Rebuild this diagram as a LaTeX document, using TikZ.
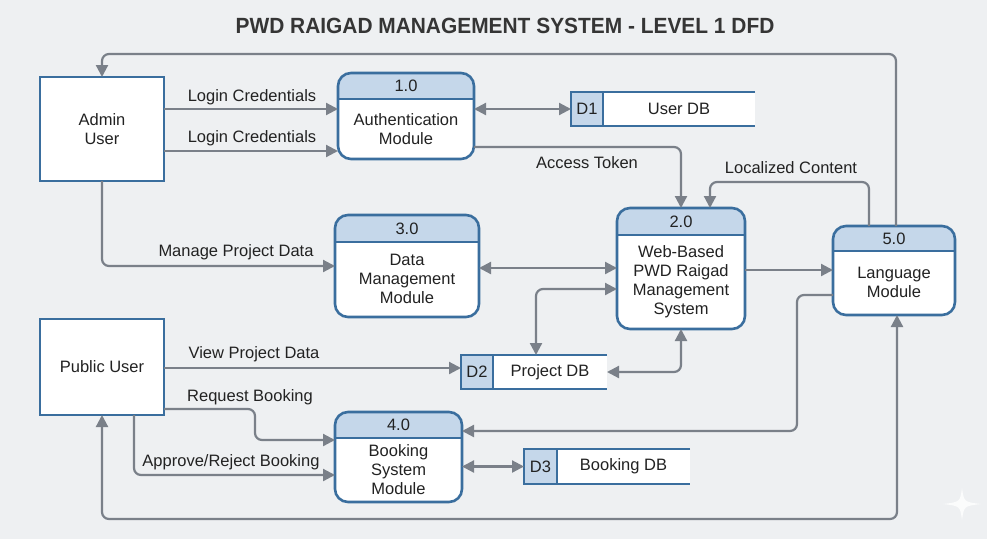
\documentclass[tikz,border=0pt]{standalone}
\usepackage{fontspec}
\setmainfont{Liberation Sans}
\usetikzlibrary{arrows.meta,positioning,calc}

\definecolor{boxblue}{HTML}{3A6E9E}
\definecolor{hdrblue}{HTML}{C5D7EA}
\definecolor{flowgrey}{HTML}{7A8089}
\definecolor{bggrey}{HTML}{EEF0F2}
\definecolor{txtgrey}{HTML}{222222}
\definecolor{titlegrey}{HTML}{353535}

\tikzset{
  box/.style={draw=boxblue, line width=2.6pt},
  ent/.style={box, fill=white, outer sep=0pt, inner sep=0pt, align=center, font=\fontsize{16.5}{19}\selectfont},
  proc/.style={fill=white, rounded corners=13pt, outer sep=0pt, inner sep=0pt},
  num/.style={inner sep=0pt, font=\fontsize{16.5}{19}\selectfont},
  ptxt/.style={inner sep=0pt, align=center, font=\fontsize{16.5}{19}\selectfont},
  store/.style={fill=white, outer sep=0pt, inner sep=0pt},
  sid/.style={fill=hdrblue, outer sep=0pt, inner sep=0pt, font=\fontsize{16.5}{19}\selectfont},
  sname/.style={outer sep=0pt, inner sep=0pt, font=\fontsize{16.5}{19}\selectfont},
  flow/.style={draw=flowgrey, line width=2.2pt, rounded corners=7pt, -{Triangle[length=12pt,width=12pt]}},
  flow2/.style={flow, {Triangle[length=12pt,width=12pt]}-{Triangle[length=12pt,width=12pt]}},
  lbl/.style={inner sep=0pt, font=\fontsize{16.5}{19}\selectfont},
}

\begin{document}
\begin{tikzpicture}[x=1pt,y=1pt,yscale=-1,xscale=1, every node/.style={text=txtgrey}]
\useasboundingbox (0,0) rectangle (987,539);
\fill[bggrey] (0,0) rectangle (987,539);

% Title
\node[font=\fontsize{22}{26}\selectfont\bfseries, text=titlegrey] (title) at (505,26) {\scalebox{.95}[1]{PWD RAIGAD MANAGEMENT SYSTEM - LEVEL 1 DFD}};

% Entities
\node[ent, minimum width=124pt, minimum height=104pt] (admin) at (102,129) {Admin\\User};
\node[ent, minimum width=124pt, minimum height=96pt] (public) at (102,367) {Public User};

% Process 1.0
\node[proc, minimum width=136pt, minimum height=86pt] (auth) at (406,116) {};
\begin{scope}
  \clip[rounded corners=13pt] (auth.north west) rectangle (auth.south east);
  \fill[hdrblue] (auth.north west) rectangle ($(auth.north east)+(0,26)$);
\end{scope}
\draw[box] ($(auth.north west)+(0,26)$) -- ($(auth.north east)+(0,26)$);
\draw[box, rounded corners=13pt] (auth.north west) rectangle (auth.south east);
\node[num, below=0pt of auth.north, minimum height=26pt] (auth-id) {1.0};
\node[ptxt, above=0pt of auth.south, minimum height=60pt] (auth-txt) {Authentication\\Module};

% Process 2.0
\node[proc, minimum width=128pt, minimum height=121pt] (core) at (681,268.5) {};
\begin{scope}
  \clip[rounded corners=13pt] (core.north west) rectangle (core.south east);
  \fill[hdrblue] (core.north west) rectangle ($(core.north east)+(0,27)$);
\end{scope}
\draw[box] ($(core.north west)+(0,27)$) -- ($(core.north east)+(0,27)$);
\draw[box, rounded corners=13pt] (core.north west) rectangle (core.south east);
\node[num, below=0pt of core.north, minimum height=27pt] (core-id) {2.0};
\node[ptxt, above=0pt of core.south, minimum height=94pt] (core-txt) {Web-Based\\PWD Raigad\\Management\\System};

% Process 3.0
\node[proc, minimum width=144pt, minimum height=102pt] (data) at (407,266) {};
\begin{scope}
  \clip[rounded corners=13pt] (data.north west) rectangle (data.south east);
  \fill[hdrblue] (data.north west) rectangle ($(data.north east)+(0,27)$);
\end{scope}
\draw[box] ($(data.north west)+(0,27)$) -- ($(data.north east)+(0,27)$);
\draw[box, rounded corners=13pt] (data.north west) rectangle (data.south east);
\node[num, below=0pt of data.north, minimum height=27pt] (data-id) {3.0};
\node[ptxt, above=0pt of data.south, minimum height=75pt] (data-txt) {Data\\Management\\Module};

% Process 4.0
\node[proc, minimum width=127pt, minimum height=90pt] (book) at (398.5,457) {};
\begin{scope}
  \clip[rounded corners=13pt] (book.north west) rectangle (book.south east);
  \fill[hdrblue] (book.north west) rectangle ($(book.north east)+(0,26)$);
\end{scope}
\draw[box] ($(book.north west)+(0,26)$) -- ($(book.north east)+(0,26)$);
\draw[box, rounded corners=13pt] (book.north west) rectangle (book.south east);
\node[num, below=0pt of book.north, minimum height=26pt] (book-id) {4.0};
\node[ptxt, above=0pt of book.south, minimum height=64pt] (book-txt) {Booking\\System\\Module};

% Process 5.0
\node[proc, minimum width=122pt, minimum height=89pt] (lang) at (894,270.5) {};
\begin{scope}
  \clip[rounded corners=13pt] (lang.north west) rectangle (lang.south east);
  \fill[hdrblue] (lang.north west) rectangle ($(lang.north east)+(0,25)$);
\end{scope}
\draw[box] ($(lang.north west)+(0,25)$) -- ($(lang.north east)+(0,25)$);
\draw[box, rounded corners=13pt] (lang.north west) rectangle (lang.south east);
\node[num, below=0pt of lang.north, minimum height=25pt] (lang-id) {5.0};
\node[ptxt, above=0pt of lang.south, minimum height=64pt] (lang-txt) {Language\\Module};

% Data stores
\node[store, minimum width=184pt, minimum height=34pt] (d1) at (663,109) {};
\node[sid, right=0pt of d1.west, minimum width=32pt, minimum height=34pt] (d1-id) {D1};
\node[sname, left=0pt of d1.east, minimum width=152pt] (d1-name) {User DB};
\draw[box] (d1.north east) -- (d1.north west) -- (d1.south west) -- (d1.south east);
\draw[box] (d1-id.north east) -- (d1-id.south east);

\node[store, minimum width=146pt, minimum height=34pt] (d2) at (534,372) {};
\node[sid, right=0pt of d2.west, minimum width=32pt, minimum height=34pt] (d2-id) {D2};
\node[sname, left=0pt of d2.east, minimum width=114pt] (d2-name) {Project DB};
\draw[box] (d2.north east) -- (d2.north west) -- (d2.south west) -- (d2.south east);
\draw[box] (d2-id.north east) -- (d2-id.south east);

\node[store, minimum width=166pt, minimum height=35pt] (d3) at (607,466.5) {};
\node[sid, right=0pt of d3.west, minimum width=33pt, minimum height=35pt] (d3-id) {D3};
\node[sname, left=0pt of d3.east, minimum width=133pt] (d3-name) {Booking DB};
\draw[box] (d3.north east) -- (d3.north west) -- (d3.south west) -- (d3.south east);
\draw[box] (d3-id.north east) -- (d3-id.south east);

% Flows
\draw[flow] (lang.north -| 896,0) |- (admin.north |- 0,54) -- (admin.north);
\draw[flow] (admin.east |- 0,109) -- (auth.west |- 0,109);
\draw[flow] (admin.east |- 0,151) -- (auth.west |- 0,151);
\draw[flow2] (auth.east |- d1.west) -- (d1.west);
\draw[flow] (auth.east |- 0,147) -| (core.north);
\draw[flow] (lang.north -| 869,0) |- (710,182) -- (core.north -| 710,0);
\draw[flow] (admin.south) |- (data.west);
\draw[flow2] (data.east |- 0,268) -- (core.west |- 0,268);
\draw[flow2] (d2.north -| 536,0) |- (core.west |- 0,289);
\draw[flow2] (core.south) |- (d2.east);
\draw[flow] (core.east |- 0,270) -- (lang.west |- 0,270);
\draw[flow] (public.east |- 0,368) -- (d2.west |- 0,368);
\draw[flow] (public.east |- 0,409) -| (255,440) -- (book.west |- 0,440);
\draw[flow] (public.south -| 134,0) |- (book.west |- 0,475);
\draw[flow] (lang.west |- 0,295) -| (797,431) -- (book.east |- 0,431);
\draw[flow2] (book.east |- d3.west) -- (d3.west);
\draw[flow2] (lang.south -| 897,0) |- (public.south |- 0,519) -- (public.south);

% Text Node
\node[lbl] (l-login1) at (252,97) {Login Credentials};
\node[lbl] (l-login2) at (252,138) {Login Credentials};
\node[lbl] (l-token) at (587,163) {Access Token};
\node[lbl] (l-local) at (791,168) {Localized Content};
\node[lbl] (l-manage) at (236,252) {Manage Project Data};
\node[lbl] (l-view) at (254,354) {View Project Data};
\node[lbl] (l-request) at (250,397) {Request Booking};
\node[lbl] (l-approve) at (231,462) {Approve/Reject Booking};

% Sparkle
\fill[white, opacity=.8] (962,488) .. controls (964,502) .. (981,504) .. controls (964,506) .. (962,520) .. controls (960,506) .. (943,504) .. controls (960,502) .. (962,488) -- cycle;

\end{tikzpicture}
\end{document}
